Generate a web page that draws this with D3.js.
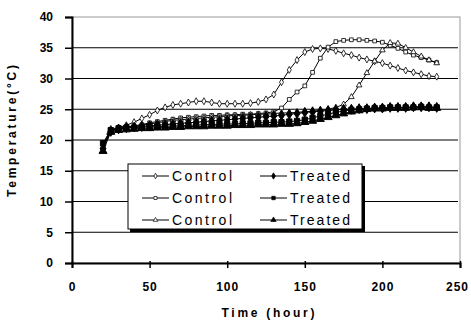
<!DOCTYPE html>
<html>
<head>
<meta charset="utf-8">
<script src="https://cdn.jsdelivr.net/npm/d3@7"></script>
<style>
  body { margin: 0; background: #fff; }
  svg { display: block; font-family: "Liberation Sans", Arial, sans-serif; }
</style>
</head>
<body>
<div id="chart"></div>
<script>
// Time points (hours)
const hours = [20, 25, 30, 35, 40, 45, 50, 55, 60, 65, 70, 75, 80, 85, 90, 95, 100, 105, 110, 115,
  120, 125, 130, 135, 140, 145, 150, 155, 160, 165, 170, 175, 180, 185, 190, 195, 200, 205, 210,
  215, 220, 225, 230, 235];

// Temperature series (°C)
const control1 = [19.2, 21.8, 22.0, 22.4, 22.9, 23.5, 24.1, 24.8, 25.3, 25.7, 25.9, 26.1, 26.3, 26.3,
  26.1, 25.9, 25.9, 25.9, 25.9, 26.0, 26.2, 26.6, 27.4, 29.4, 31.4, 33.0, 34.3, 34.8, 34.9, 34.8,
  34.5, 34.1, 33.8, 33.4, 33.1, 32.8, 32.5, 32.1, 31.7, 31.3, 31.0, 30.7, 30.4, 30.3];
const control2 = [19.0, 21.6, 21.9, 22.1, 22.3, 22.5, 22.8, 23.0, 23.2, 23.4, 23.6, 23.7, 23.8, 23.9,
  24.0, 24.0, 24.1, 24.1, 24.2, 24.2, 24.3, 24.4, 24.6, 25.2, 26.6, 27.8, 28.8, 31.0, 33.3, 35.1,
  36.0, 36.2, 36.3, 36.3, 36.2, 36.1, 35.9, 35.4, 34.9, 34.3, 33.8, 33.4, 33.0, 32.6];
const control3 = [18.8, 21.5, 21.8, 22.0, 22.2, 22.4, 22.6, 22.8, 23.0, 23.2, 23.3, 23.4, 23.5, 23.6,
  23.7, 23.8, 23.9, 24.0, 24.0, 24.1, 24.2, 24.2, 24.3, 24.4, 24.4, 24.5, 24.6, 24.7, 24.8, 25.0,
  25.3, 25.8, 27.0, 28.9, 30.9, 32.8, 34.6, 35.8, 35.7, 35.0, 34.3, 33.6, 33.0, 32.5];
const treated1 = [18.6, 21.4, 21.8, 22.0, 22.1, 22.2, 22.3, 22.4, 22.5, 22.6, 22.7, 22.8, 22.9, 23.0,
  23.1, 23.2, 23.3, 23.4, 23.5, 23.6, 23.7, 23.8, 23.9, 24.0, 24.2, 24.3, 24.5, 24.6, 24.7, 24.8,
  24.9, 25.0, 25.0, 25.1, 25.1, 25.2, 25.2, 25.3, 25.3, 25.3, 25.4, 25.4, 25.4, 25.3];
const treated2 = [19.5, 21.6, 21.9, 22.0, 22.0, 22.1, 22.1, 22.2, 22.2, 22.3, 22.3, 22.4, 22.4, 22.5,
  22.5, 22.6, 22.6, 22.6, 22.7, 22.7, 22.8, 22.8, 22.9, 22.9, 23.0, 23.1, 23.3, 23.6, 23.9, 24.2,
  24.5, 24.7, 24.9, 25.0, 25.1, 25.2, 25.2, 25.3, 25.3, 25.3, 25.3, 25.4, 25.3, 25.3];
const treated3 = [18.2, 21.3, 21.6, 21.7, 21.8, 21.9, 21.9, 22.0, 22.0, 22.1, 22.1, 22.2, 22.2, 22.2,
  22.3, 22.3, 22.3, 22.4, 22.4, 22.4, 22.5, 22.5, 22.5, 22.6, 22.6, 22.7, 22.9, 23.1, 23.4, 23.7,
  24.0, 24.3, 24.6, 24.8, 25.0, 25.1, 25.1, 25.2, 25.2, 25.2, 25.3, 25.3, 25.2, 25.2];

const xTicks = [0, 50, 100, 150, 200, 250];
const yTicks = [0, 5, 10, 15, 20, 25, 30, 35, 40];

const series = [
  { name: 'Control', values: control1, symbol: d3.symbolDiamond, filled: false },
  { name: 'Control', values: control2, symbol: d3.symbolSquare, filled: false },
  { name: 'Control', values: control3, symbol: d3.symbolTriangle, filled: false },
  { name: 'Treated', values: treated1, symbol: d3.symbolDiamond, filled: true },
  { name: 'Treated', values: treated2, symbol: d3.symbolSquare, filled: true },
  { name: 'Treated', values: treated3, symbol: d3.symbolTriangle, filled: true }
];

const W = 471, H = 322;
const margin = { top: 17, right: 11, bottom: 59, left: 72 };
const width = W - margin.left - margin.right;
const height = H - margin.top - margin.bottom;

const svg = d3.select('#chart').append('svg')
  .attr('width', W).attr('height', H);

const g = svg.append('g')
  .attr('transform', `translate(${margin.left},${margin.top})`);

const x = d3.scaleLinear().domain([0, 250]).range([0, width]);
const y = d3.scaleLinear().domain([0, 40]).range([height, 0]);

// plot border (grey top/right)
g.append('rect')
  .attr('x', 0).attr('y', 0).attr('width', width).attr('height', height)
  .attr('fill', 'none').attr('stroke', '#999').attr('stroke-width', 1);

// gridlines
g.append('g').selectAll('line')
  .data(yTicks.filter(d => d > 0 && d < 40))
  .enter().append('line')
  .attr('x1', 0).attr('x2', width - 2)
  .attr('y1', d => y(d)).attr('y2', d => y(d))
  .attr('stroke', '#000').attr('stroke-width', 1);

// y axis
const yAxis = g.append('g')
  .call(d3.axisLeft(y).tickValues(yTicks).tickSize(7).tickPadding(12));
yAxis.select('.domain').attr('stroke-width', 2);
yAxis.selectAll('.tick line').attr('stroke-width', 1.5);
yAxis.selectAll('text')
  .style('font-size', '12px').style('font-weight', 'bold').attr('fill', '#000');

// x axis
const xAxis = g.append('g')
  .attr('transform', `translate(0,${height})`)
  .call(d3.axisBottom(x).tickValues(xTicks).tickSize(5).tickPadding(14));
xAxis.select('.domain').attr('stroke-width', 2);
xAxis.selectAll('.tick line').attr('stroke-width', 1.5).attr('y1', -2);
xAxis.selectAll('text')
  .style('font-size', '12px').style('font-weight', 'bold')
  .style('letter-spacing', '1px').attr('fill', '#000')
  .attr('dx', d => d === 250 ? -3 : 0);

// axis titles
svg.append('text')
  .attr('x', 268).attr('y', 317)
  .attr('text-anchor', 'middle')
  .attr('textLength', 93).attr('lengthAdjust', 'spacing')
  .style('font-size', '12px').style('font-weight', 'bold')
  .text('Time (hour)');

svg.append('text')
  .attr('transform', 'translate(16,131) rotate(-90)')
  .attr('text-anchor', 'middle')
  .attr('textLength', 132).attr('lengthAdjust', 'spacing')
  .style('font-size', '12px').style('font-weight', 'bold')
  .text('Temperature(°C)');

// lines and markers
const line = d3.line()
  .x((d, i) => x(hours[i]))
  .y(d => y(d));

series.forEach(s => {
  g.append('path')
    .datum(s.values)
    .attr('fill', 'none')
    .attr('stroke', '#000')
    .attr('stroke-width', 1)
    .attr('d', line);

  g.append('g').selectAll('path')
    .data(s.values)
    .enter().append('path')
    .attr('transform', (d, i) => `translate(${x(hours[i])},${y(d)})`)
    .attr('d', d3.symbol().type(s.symbol).size(s.filled ? 28 : 14))
    .attr('fill', s.filled ? '#000' : '#fff')
    .attr('stroke', '#000')
    .attr('stroke-width', s.filled ? 1 : 0.8);
});

// legend
const legend = svg.append('g');
legend.append('rect')
  .attr('x', 130).attr('y', 166).attr('width', 235).attr('height', 66)
  .attr('fill', '#000');
legend.append('rect')
  .attr('x', 128).attr('y', 164).attr('width', 234).attr('height', 65)
  .attr('fill', '#fff').attr('stroke', '#000').attr('stroke-width', 1);

const rowY = [176, 198, 220];
series.forEach((s, i) => {
  const col = i < 3 ? 0 : 1;
  const row = i % 3;
  const x0 = col === 0 ? 142 : 260;
  const ly = rowY[row];
  legend.append('line')
    .attr('x1', x0).attr('x2', x0 + 27).attr('y1', ly).attr('y2', ly)
    .attr('stroke', '#000').attr('stroke-width', 1);
  legend.append('path')
    .attr('transform', `translate(${x0 + 13.5},${ly})`)
    .attr('d', d3.symbol().type(s.symbol).size(s.filled ? 12 : 9))
    .attr('fill', s.filled ? '#000' : '#fff')
    .attr('stroke', '#000').attr('stroke-width', 0.7);
  legend.append('text')
    .attr('x', x0 + 30).attr('y', ly + 5)
    .attr('textLength', 60).attr('lengthAdjust', 'spacing')
    .style('font-size', '14px')
    .text(s.name);
});
</script>
</body>
</html>
